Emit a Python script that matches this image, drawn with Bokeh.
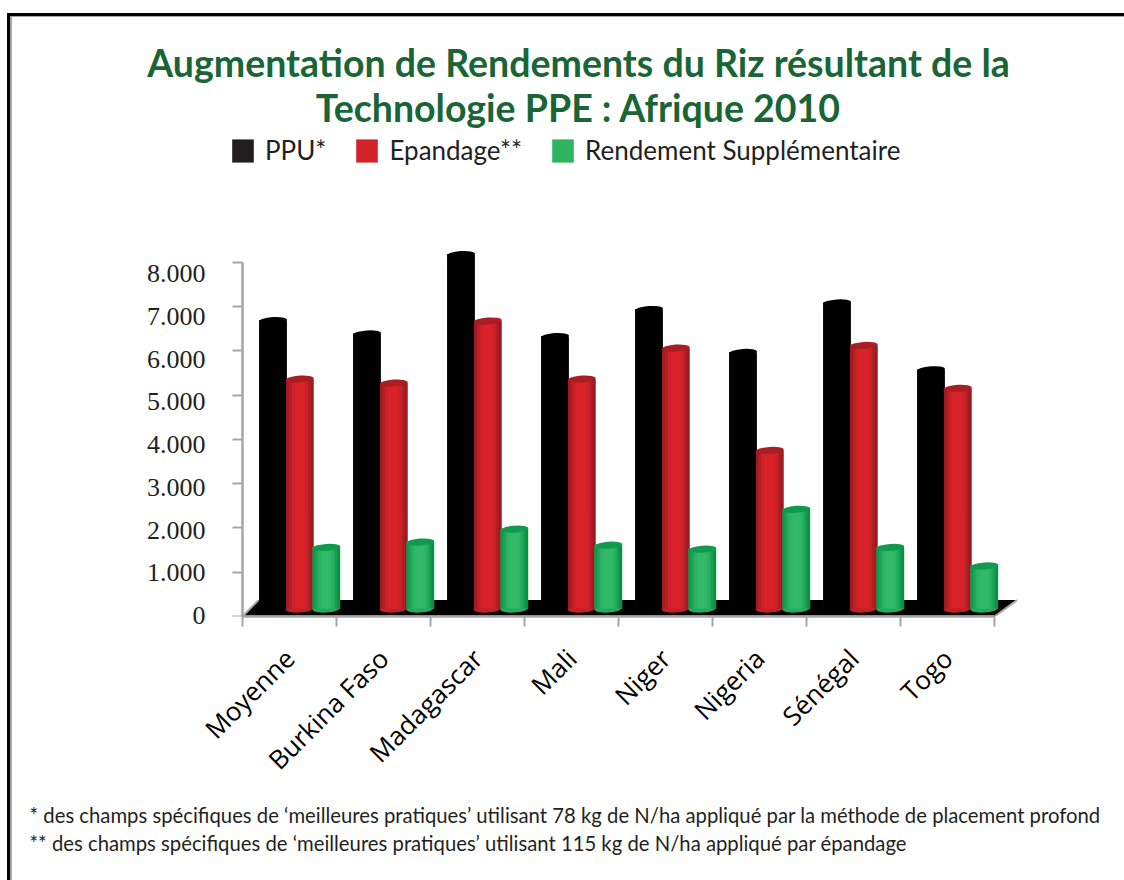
import math
from bokeh.embed import file_html
from bokeh.resources import INLINE
from bokeh.plotting import figure
from bokeh.models import (Range1d, FixedTicker, LinearAxis, Label, Legend, LegendItem)

# ---- data ----
categories = ["Moyenne", "Burkina Faso", "Madagascar", "Mali", "Niger", "Nigeria", "Sénégal", "Togo"]
ppu = [6680, 6380, 8170, 6320, 6930, 5960, 7080, 5570]
epandage = [5360, 5270, 6670, 5360, 6060, 3750, 6120, 5150]
supplement = [1560, 1680, 1970, 1610, 1520, 2420, 1560, 1140]
y_ticks = [0, 1000, 2000, 3000, 4000, 5000, 6000, 7000, 8000]
y_tick_labels = ["0", "1.000", "2.000", "3.000", "4.000", "5.000", "6.000", "7.000", "8.000"]
title_lines = ["Augmentation de Rendements du Riz résultant de la", "Technologie PPE : Afrique 2010"]
series_names = ["PPU*", "Epandage**", "Rendement Supplémentaire"]
notes = ["* des champs spécifiques de \u2018meilleures pratiques\u2019 utilisant 78 kg de N/ha appliqué par la méthode de placement profond",
         "** des champs spécifiques de \u2018meilleures pratiques\u2019 utilisant 115 kg de N/ha appliqué par épandage"]

# ---- styling ----
GREY = "#a6a6a6"
TITLE_GREEN = "#1a6535"
TEXT = "#231f20"
swatch = ["#231f20", "#d2232a", "#2eb35f"]
shades = [
    ["#000000"] * 10,
    ["#9c1c21", "#b81f25", "#cf2228", "#d82329", "#d92329", "#d92329", "#d62228", "#c92127", "#b11e24", "#971b20"],
    ["#0e9a4d", "#1ea658", "#2cb362", "#31b869", "#32b96a", "#32b96a", "#30b768", "#27af5f", "#169f52", "#0b8f46"],
]
cap = ["#000000", "#a81e23", "#0f9a4e"]
base_col = ["#000000", "#c22026", "#23aa5c"]
FLOOR_BASE = 180          # cylinders stand in the middle of the floor's depth
BAR_W = 0.293
centres = [0.324, 0.609, 0.892]
floor_back = 370

W, H = 1124, 880
FL, FT, FW, FH = 229, 130, 812, 486
p = figure(width=W, height=H, output_backend="svg", toolbar_location=None,
           x_range=Range1d(-13 / 94, 8.5), y_range=Range1d(0, 10971),
           min_border_left=FL, min_border_top=FT, min_border_right=W - FL - FW,
           min_border_bottom=H - FT - FH, outline_line_color=None,
           background_fill_color=None, border_fill_color=None,
           styles={"box-shadow": "inset 7px 13px 0 #ffffff, inset 10px 16px 0 #000000, inset 12px 17px 0 #a6a6a6"})
p.grid.visible = False
p.xaxis.visible = False
p.yaxis.visible = False
p.renderers = []

n = len(categories)
# floor
p.patch([0, n, n + 0.24, 0.17], [0, 0, floor_back, floor_back], fill_color="black", line_color=None)
p.line([0.17, 0, n, n + 0.24], [floor_back, 0, 0, floor_back], line_color=GREY, line_width=2)

# cylinders
legend_items = []
for s, vals in enumerate([ppu, epandage, supplement]):
    xs = [i + centres[s] for i in range(n)]
    base = p.vbar(x=xs, top=vals, bottom=FLOOR_BASE, width=BAR_W, fill_color=swatch[s], line_color=None)
    legend_items.append(LegendItem(label=series_names[s], renderers=[base]))
    p.ellipse(x=xs, y=[FLOOR_BASE] * n, width=28, height=8, width_units="screen", height_units="screen",
              angle=0.07, fill_color=base_col[s], line_color=None)
    k = len(shades[s])
    l, r, t, b, c = [], [], [], [], []
    for x0, v in zip(xs, vals):
        for j in range(k):
            l.append(x0 - BAR_W / 2 + BAR_W * j / k)
            r.append(min(x0 - BAR_W / 2 + BAR_W * (j + 1) / k + 0.012, x0 + BAR_W / 2))
            t.append(v)
            b.append(FLOOR_BASE)
            c.append(shades[s][j])
    p.quad(left=l, right=r, top=t, bottom=b, fill_color=c, line_color=None)
    p.ellipse(x=xs, y=vals, width=28, height=7, width_units="screen", height_units="screen",
              angle=0.07, fill_color=cap[s], line_color=None)

# axes
ax = LinearAxis(ticker=FixedTicker(ticks=y_ticks), bounds=(0, 8000), axis_line_color=GREY, axis_line_width=2.5,
                major_tick_line_color=GREY, major_tick_line_width=2, major_tick_in=0, major_tick_out=10,
                minor_tick_line_color=None, major_label_text_color=None, major_label_text_font_size="1px",
                major_label_standoff=0, fixed_location=0)
p.add_layout(ax, "left")

# the printed numbers are spaced a little tighter than the tick marks
p.extra_y_ranges = {"labels": Range1d(-23, 11345)}
ay = LinearAxis(y_range_name="labels", ticker=FixedTicker(ticks=y_ticks),
                major_label_overrides=dict(zip(y_ticks, y_tick_labels)),
                axis_line_color=None, major_tick_line_color=None, minor_tick_line_color=None,
                major_tick_in=0, major_tick_out=0,
                major_label_text_font="Liberation Serif", major_label_text_font_size="26px",
                major_label_text_color=TEXT, major_label_standoff=24)
p.add_layout(ay, "left")

tick_centres = [i + 0.5 for i in range(n)]
axx = LinearAxis(ticker=FixedTicker(ticks=tick_centres, minor_ticks=list(range(n + 1))),
                 bounds=(0, n), axis_line_color=GREY, axis_line_width=2.5,
                 major_tick_line_color=None, major_tick_in=0, major_tick_out=0,
                 minor_tick_line_color=GREY, minor_tick_line_width=2, minor_tick_in=0, minor_tick_out=10,
                 major_label_overrides=dict(zip(tick_centres, categories)),
                 major_label_orientation=math.pi / 4,
                 major_label_text_font="Open Sans", major_label_text_font_size="26px",
                 major_label_text_color="black", major_label_standoff=27)
p.add_layout(axx, "below")

# legend
leg = Legend(items=legend_items, orientation="horizontal", location=(0, 450),
             border_line_color=None, background_fill_alpha=0,
             glyph_width=27, glyph_height=29, label_standoff=9, spacing=27, padding=0, margin=0,
             label_text_font="Lato", label_text_font_size="26px", label_text_color=TEXT,
             label_height=29)
p.add_layout(leg, "center")


def sx(px):
    return px - FL


# title and notes
for txt in title_lines[::-1]:
    p.add_layout(Label(x=sx(578), y=23, x_units="screen", y_units="screen", text=txt, text_align="center",
                       text_baseline="alphabetic", text_font="Lato", text_font_style="bold",
                       text_font_size="37.5px", text_color=TITLE_GREEN), "above")
for txt, yoff in zip(notes, [2, -2]):
    p.add_layout(Label(x=sx(29), y=yoff, x_units="screen", y_units="screen", text=txt, text_align="left",
                       text_baseline="alphabetic", text_font="Lato",
                       text_font_size="20.3px", text_color=TEXT), "below")

open("out.html", "w").write(file_html(p, INLINE))
